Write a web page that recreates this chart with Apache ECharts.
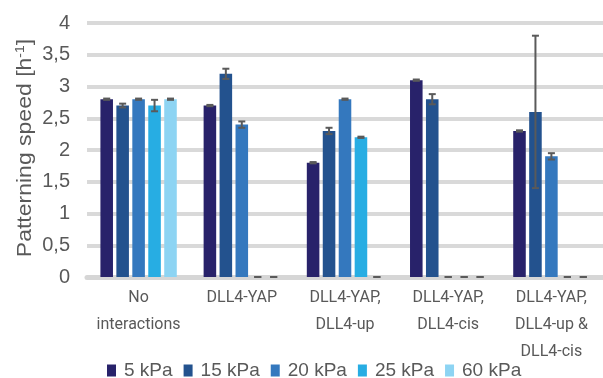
<!DOCTYPE html>
<html>
<head>
<meta charset="utf-8">
<script src="https://cdn.jsdelivr.net/npm/echarts@6/dist/echarts.min.js"></script>
<style>
  html, body { margin: 0; padding: 0; background: #fff; }
  #chart { width: 603px; height: 378px; }
</style>
</head>
<body>
<div id="chart"></div>
<script>
// Groups of interactions on the x axis
const categories = [
  'No\ninteractions',
  'DLL4-YAP',
  'DLL4-YAP,\nDLL4-up',
  'DLL4-YAP,\nDLL4-cis',
  'DLL4-YAP,\nDLL4-up &\nDLL4-cis'
];

// Substrate stiffness series
const stiffness = ['5 kPa', '15 kPa', '20 kPa', '25 kPa', '60 kPa'];
const colors = ['#28226a', '#23528e', '#3478be', '#27ade3', '#8dd4f3'];

// Patterning speed (h^-1) per group, and the error for each
const speed5 = [2.8, 2.7, 1.8, 3.1, 2.3];
const speed15 = [2.7, 3.2, 2.3, 2.8, 2.6];
const speed20 = [2.8, 2.4, 2.8, 0, 1.9];
const speed25 = [2.7, 0, 2.2, 0, 0];
const speed60 = [2.8, 0, 0, 0, 0];

const err5 = [0.01, 0.01, 0.01, 0.01, 0.01];
const err15 = [0.03, 0.08, 0.05, 0.08, 1.2];
const err20 = [0.01, 0.05, 0.01, 0, 0.05];
const err25 = [0.09, 0, 0.01, 0, 0];
const err60 = [0.01, 0, 0, 0, 0];

// Y axis ticks
const yMin = 0, yMax = 4, yStep = 0.5;

const speeds = [speed5, speed15, speed20, speed25, speed60];
const errors = [err5, err15, err20, err25, err60];

const BAR_GAP = 0.27;       // gap between bars, fraction of bar width
const CAT_GAP = 0.26;       // gap between groups, fraction of band

const chart = echarts.init(document.getElementById('chart'), null, { renderer: 'canvas' });

const barSeries = stiffness.map((name, i) => ({
  name: name,
  type: 'bar',
  data: speeds[i],
  barGap: (BAR_GAP * 100) + '%',
  barCategoryGap: (CAT_GAP * 100) + '%',
  itemStyle: { color: colors[i] },
  emphasis: { disabled: true },
  z: 2
}));

// Error bars placed over each bar of the grouped layout
const errSeries = stiffness.map((name, i) => ({
  name: name + ' error',
  type: 'custom',
  z: 5,
  silent: true,
  data: categories.map((c, k) => [k, speeds[i][k], errors[i][k]]),
  renderItem: function (params, api) {
    const k = api.value(0), v = api.value(1), e = api.value(2);
    const band = api.size([1, 0])[0];
    const n = stiffness.length;
    const groupW = band * (1 - CAT_GAP);
    const barW = groupW / (n + (n - 1) * BAR_GAP);
    const center = api.coord([k, v])[0];
    const x = center - groupW / 2 + i * barW * (1 + BAR_GAP) + barW / 2;
    const yTop = api.coord([k, v + e])[1];
    const yBot = api.coord([k, v - e])[1];
    const cap = 3.5;
    const st = { stroke: '#5a5a5a', lineWidth: 2 };
    return {
      type: 'group',
      children: [
        { type: 'line', shape: { x1: x, y1: yTop, x2: x, y2: yBot }, style: st },
        { type: 'line', shape: { x1: x - cap, y1: yTop, x2: x + cap, y2: yTop }, style: st },
        { type: 'line', shape: { x1: x - cap, y1: yBot, x2: x + cap, y2: yBot }, style: st }
      ]
    };
  }
}));

const textColor = '#595959';

chart.setOption({
  animation: false,
  backgroundColor: '#ffffff',
  grid: { left: 87, right: -9, top: 23, bottom: 101, containLabel: false },
  legend: {
    data: stiffness,
    left: 107,
    top: 361,
    padding: 0,
    itemWidth: 9,
    itemHeight: 12,
    itemGap: 11,
    icon: 'rect',
    textStyle: {
      color: textColor,
      fontFamily: 'Liberation Sans',
      fontSize: 19,
      padding: [0, 0, 0, 3]
    }
  },
  xAxis: {
    type: 'category',
    data: categories,
    offset: 3,
    axisLine: { show: true, lineStyle: { color: '#d6d6d6', width: 5 } },
    axisTick: { show: false },
    axisLabel: {
      interval: 0,
      margin: 4,
      color: textColor,
      fontFamily: 'Roboto',
      fontSize: 16,
      lineHeight: 27
    }
  },
  yAxis: {
    type: 'value',
    min: yMin,
    max: yMax,
    interval: yStep,
    axisLine: { show: false },
    axisTick: { show: false },
    splitLine: { lineStyle: { color: '#d9d9d9', width: 4 } },
    axisLabel: {
      margin: 17,
      color: textColor,
      fontFamily: 'Liberation Sans',
      fontSize: 20,
      formatter: v => String(v).replace('.', ',')
    }
  },
  graphic: [{
    type: 'text',
    x: 25,
    y: 148,
    rotation: Math.PI / 2,
    scaleY: 0.88,
    silent: true,
    style: {
      text: 'Patterning speed [h{sup|-1}]',
      fill: textColor,
      font: '23px "Liberation Sans"',
      align: 'center',
      verticalAlign: 'middle',
      rich: {
        sup: { fontSize: 14, fontFamily: 'Liberation Sans', fill: textColor, verticalAlign: 'top', padding: [0, 0, 8, 0] }
      }
    }
  }],
  series: barSeries.concat(errSeries)
});
</script>
</body>
</html>
